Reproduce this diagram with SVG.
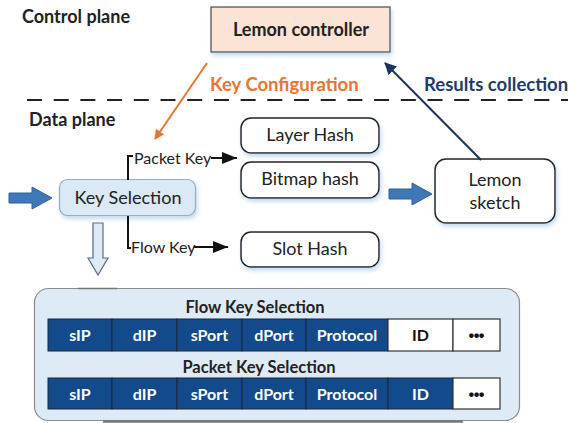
<svg xmlns="http://www.w3.org/2000/svg" width="568" height="423" viewBox="0 0 568 423">
<style>
  text { font-family: Lato, "Liberation Sans", sans-serif; }
  .lbl { font-size: 18px; fill: #222; text-anchor: middle; }
  .plane { font-size: 18px; font-weight: bold; fill: #222; }
  .hashbox { fill: #fff; stroke: #222; stroke-width: 1.5; }
  .cell { fill: #124a8c; stroke: #1b2638; stroke-width: 1; }
  .wcell { fill: #fff; stroke: #333; stroke-width: 1.2; }
  .ct { font-size: 16px; font-weight: bold; fill: #fff; text-anchor: middle; }
  .ctb { font-size: 16px; font-weight: bold; fill: #111; text-anchor: middle; }
  .dots { font-size: 22px; font-weight: 900; fill: #111; text-anchor: middle; letter-spacing: -1px; }
  .ttl { font-size: 16.5px; font-weight: bold; fill: #222; text-anchor: middle; }
  .bluearrow { fill: #3f78b6; stroke: #2f639b; stroke-width: 1; }
  .small { font-size: 16px; fill: #222; }
</style>
<defs>
  <filter id="sh" x="-20%" y="-20%" width="140%" height="150%">
    <feDropShadow dx="1.5" dy="3" stdDeviation="2" flood-color="#9cc2e5" flood-opacity="0.6"/>
  </filter>
  <marker id="mOrange" markerWidth="10" markerHeight="10" refX="9" refY="5" orient="auto" markerUnits="userSpaceOnUse" viewBox="0 0 10 10">
    <path d="M0,0 L10,5 L0,10 Z" fill="#ec7431"/>
  </marker>
  <marker id="mNavy" markerWidth="12" markerHeight="12" refX="11" refY="6" orient="auto" markerUnits="userSpaceOnUse" viewBox="0 0 12 12">
    <path d="M0,0 L12,6 L0,12 Z" fill="#1c3461"/>
  </marker>
  <marker id="mBlack" markerWidth="15" markerHeight="12" refX="15" refY="6" orient="auto" markerUnits="userSpaceOnUse" viewBox="0 0 15 12">
    <path d="M0,0 L15,6 L0,12 Z" fill="#111"/>
  </marker>
</defs>

<text class="plane" x="22" y="23">Control plane</text>
<text class="plane" x="29" y="126">Data plane</text>
<line x1="27" y1="100" x2="568" y2="100" stroke="#222" stroke-width="2" stroke-dasharray="15 11.7"/>

<g id="lemon-controller">
  <rect x="211" y="7" width="179" height="45" fill="#fbe3d5" stroke="#555" stroke-width="1.3" filter="url(#sh)"/>
  <text class="lbl" x="301" y="36" font-weight="bold" font-size="19">Lemon controller</text>
</g>

<g id="key-selection">
  <rect x="59.5" y="179.5" width="136" height="36" rx="8" fill="#dbe8f5" stroke="#9aabbd" stroke-width="1.2" filter="url(#sh)"/>
  <text class="lbl" x="128" y="204">Key Selection</text>
</g>

<g id="layer-hash">
  <rect class="hashbox" x="241" y="118" width="138" height="35" rx="10" filter="url(#sh)"/>
  <text class="lbl" x="310" y="141">Layer Hash</text>
</g>
<g id="bitmap-hash">
  <rect class="hashbox" x="241" y="162" width="138" height="36" rx="10" filter="url(#sh)"/>
  <text class="lbl" x="310" y="185">Bitmap hash</text>
</g>
<g id="slot-hash">
  <rect class="hashbox" x="241" y="232" width="138" height="35" rx="10" filter="url(#sh)"/>
  <text class="lbl" x="310" y="255">Slot Hash</text>
</g>
<g id="lemon-sketch">
  <rect class="hashbox" x="435" y="159" width="120" height="64" rx="11" filter="url(#sh)"/>
  <text class="lbl" x="495" y="186">Lemon</text>
  <text class="lbl" x="495" y="209">sketch</text>
</g>

<g id="connectors">
  <line x1="207" y1="63" x2="155" y2="139" stroke="#ec7431" stroke-width="2" marker-end="url(#mOrange)"/>
  <text x="210" y="91" font-size="18.5" font-weight="bold" fill="#ec7431">Key Configuration</text>
  <line x1="481" y1="160" x2="385" y2="63" stroke="#1c3461" stroke-width="2" marker-end="url(#mNavy)"/>
  <text x="424" y="91" font-size="18.5" font-weight="bold" fill="#1f3a6b">Results collection</text>

  <path d="M128,180 V156 H133" fill="none" stroke="#111" stroke-width="2"/>
  <text class="small" x="134" y="164">Packet Key</text>
  <line x1="211" y1="158" x2="237" y2="158" stroke="#111" stroke-width="2" marker-end="url(#mBlack)"/>

  <path d="M128,216 V248 H131" fill="none" stroke="#111" stroke-width="2"/>
  <text class="small" x="131" y="253">Flow Key</text>
  <line x1="194" y1="247" x2="228" y2="247" stroke="#111" stroke-width="2" marker-end="url(#mBlack)"/>

  <path class="bluearrow" d="M9,193 H32 V187 L52,198 L32,209 V203 H9 Z"/>
  <path class="bluearrow" d="M389,189 H412 V183 L432,194 L412,205 V199 H389 Z"/>
  <path d="M93,223 H103 V258 H108 L98,275 L88,258 H93 Z" fill="#deeaf6" stroke="#5b6b7c" stroke-width="1.2"/>
</g>

<g id="key-panel">
  <rect x="34.5" y="288.5" width="485" height="132" rx="14" fill="#deebf7" stroke="#8c8c8c" stroke-width="1.2"/>
  <line x1="78" y1="288.5" x2="117" y2="288.5" stroke="#777" stroke-width="1.5"/>
  <line x1="103" y1="421.5" x2="463" y2="421.5" stroke="#777" stroke-width="2.5"/>
  <text class="ttl" x="255" y="313">Flow Key Selection</text>
  <g id="flow-row">
    <rect class="cell" x="48" y="319" width="64" height="32"/>
    <rect class="cell" x="112" y="319" width="65" height="32"/>
    <rect class="cell" x="177" y="319" width="65" height="32"/>
    <rect class="cell" x="242" y="319" width="64" height="32"/>
    <rect class="cell" x="306" y="319" width="82" height="32"/>
    <rect class="wcell" x="388" y="319" width="65" height="32"/>
    <rect class="wcell" x="453" y="319" width="47" height="32"/>
    <text class="ct" x="80" y="341">sIP</text>
    <text class="ct" x="144.5" y="341">dIP</text>
    <text class="ct" x="209.5" y="341">sPort</text>
    <text class="ct" x="274" y="341">dPort</text>
    <text class="ct" x="347" y="341">Protocol</text>
    <text class="ctb" x="420.5" y="341">ID</text>
    <text class="dots" x="476" y="343">···</text>
  </g>
  <text class="ttl" x="259" y="373">Packet Key Selection</text>
  <g id="packet-row">
    <rect class="cell" x="48" y="378" width="64" height="31"/>
    <rect class="cell" x="112" y="378" width="65" height="31"/>
    <rect class="cell" x="177" y="378" width="65" height="31"/>
    <rect class="cell" x="242" y="378" width="64" height="31"/>
    <rect class="cell" x="306" y="378" width="82" height="31"/>
    <rect class="cell" x="388" y="378" width="65" height="31"/>
    <rect class="wcell" x="453" y="378" width="47" height="31"/>
    <text class="ct" x="80" y="399.5">sIP</text>
    <text class="ct" x="144.5" y="399.5">dIP</text>
    <text class="ct" x="209.5" y="399.5">sPort</text>
    <text class="ct" x="274" y="399.5">dPort</text>
    <text class="ct" x="347" y="399.5">Protocol</text>
    <text class="ct" x="420.5" y="399.5">ID</text>
    <text class="dots" x="476" y="401.5">···</text>
  </g>
</g>
</svg>
